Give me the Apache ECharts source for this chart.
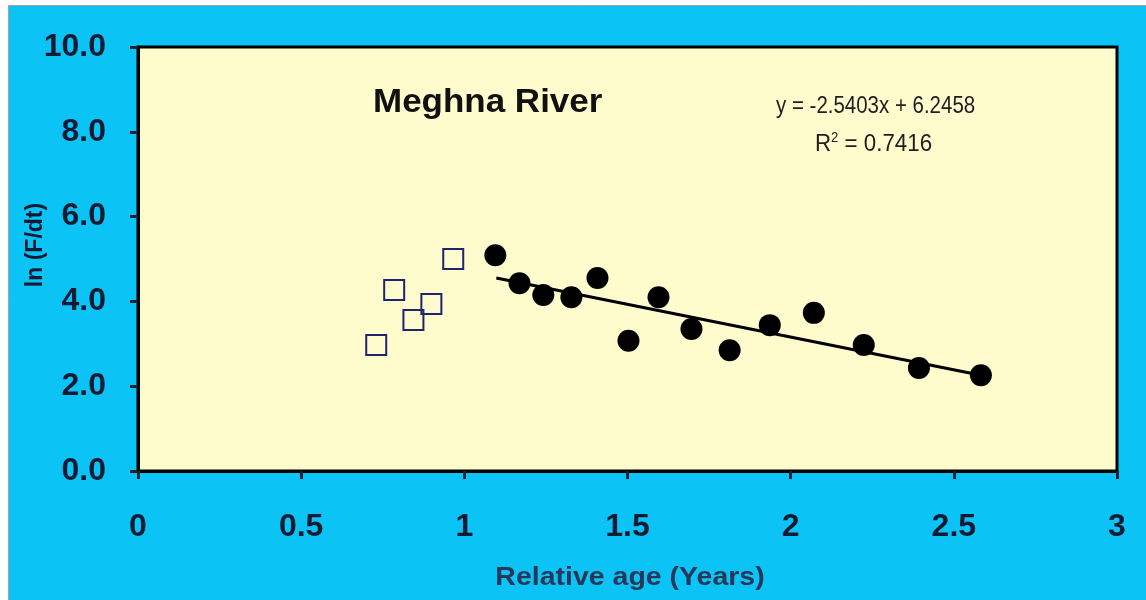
<!DOCTYPE html>
<html><head><meta charset="utf-8">
<script src="https://cdn.jsdelivr.net/npm/echarts@6/dist/echarts.min.js"></script>
<style>html,body{margin:0;padding:0;background:#fff}#c{width:1146px;height:600px}</style>
</head><body><div id="c"></div>
<script>
// Open squares (early points)
const openX = [0.730, 0.785, 0.844, 0.899, 0.966];
const openY = [2.97, 4.27, 3.56, 3.94, 5.00];
// Filled circles (regression points)
const fillX = [1.095, 1.169, 1.242, 1.328, 1.408, 1.503, 1.595, 1.696, 1.813, 1.936, 2.071, 2.224, 2.393, 2.583];
const fillY = [5.09, 4.43, 4.15, 4.10, 4.55, 3.07, 4.10, 3.35, 2.85, 3.44, 3.73, 2.97, 2.43, 2.26];
// Trendline as drawn (endpoints)
const trendX = [1.098, 2.583];
const trendY = [4.55, 2.26];
const titleText = 'Meghna River';
const eqText = 'y = -2.5403x + 6.2458';
const r2Text = 'R{s|2} = 0.7416';
const xName = 'Relative age (Years)';
const yName = 'ln (F/dt)';

const zip = (a, b) => a.map((v, i) => [v, b[i]]);
const chart = echarts.init(document.getElementById('c'));
const txt = '#101b33';
const F = 'Liberation Sans';
chart.setOption({
  backgroundColor: '#ffffff',
  animation: false,
  graphic: [
    { type: 'rect', z: -10, silent: true, shape: { x: 8.5, y: 5.5, width: 1146, height: 600 }, style: { fill: '#0cc3f6', stroke: '#a0a0a0', lineWidth: 1 } },
    { type: 'text', z: 10, x: 776, y: 107, scaleX: 0.89, style: { text: eqText, fontFamily: F, fontSize: 23, fill: '#1e1e1e', textVerticalAlign: 'middle' } },
    { type: 'text', z: 10, x: 815, y: 144, scaleX: 0.93, style: { text: r2Text, fontFamily: F, fontSize: 24, fill: '#1e1e1e', textVerticalAlign: 'middle',
        rich: { s: { fontSize: 14, fontFamily: F, fill: '#1e1e1e', padding: [0, 0, 12, 0] } } } },
    { type: 'text', z: 10, x: 373, y: 103, scaleX: 1.06, style: { text: titleText, fontFamily: F, fontWeight: 'bold', fontSize: 33, fill: '#111', textVerticalAlign: 'middle' } },
    { type: 'text', z: 10, x: 630, y: 578, scaleX: 1.14, style: { text: xName, fontFamily: F, fontWeight: 'bold', fontSize: 25, fill: '#26385a', textAlign: 'center', textVerticalAlign: 'middle' } },
    { type: 'text', z: 10, x: 36, y: 245, rotation: Math.PI / 2, style: { text: yName, fontFamily: F, fontWeight: 'bold', fontSize: 23, fill: txt, textAlign: 'center', textVerticalAlign: 'middle' } }
  ],
  grid: { left: 138, right: 29, top: 47, bottom: 129, show: true, backgroundColor: '#fefbcd', borderColor: '#000', borderWidth: 3, z: 0 },
  xAxis: {
    type: 'value', min: 0, max: 3, interval: 0.5,
    splitLine: { show: false },
    axisLine: { show: true, onZero: false, lineStyle: { color: '#000', width: 3 } },
    axisTick: { show: true, length: 8, lineStyle: { color: '#1a2030', width: 3 } },
    axisLabel: { margin: 40, fontFamily: F, fontWeight: 'bold', fontSize: 32, color: txt, formatter: v => String(v) }
  },
  yAxis: {
    type: 'value', min: 0, max: 10, interval: 2,
    splitLine: { show: false },
    axisLine: { show: true, onZero: false, lineStyle: { color: '#000', width: 3 } },
    axisTick: { show: true, length: 8, lineStyle: { color: '#1a2030', width: 3 } },
    axisLabel: { margin: 32, fontFamily: F, fontWeight: 'bold', fontSize: 32, color: txt, formatter: v => v.toFixed(1) }
  },
  series: [
    { type: 'line', data: zip(trendX, trendY), symbol: 'none', lineStyle: { color: '#000', width: 3 }, z: 2 },
    { type: 'scatter', data: zip(openX, openY), symbol: 'rect', symbolSize: 20,
      itemStyle: { color: 'rgba(0,0,0,0)', borderColor: '#1f2470', borderWidth: 2, opacity: 1 }, z: 3 },
    { type: 'scatter', data: zip(fillX, fillY), symbol: 'circle', symbolSize: 22,
      itemStyle: { color: '#000', opacity: 1 }, z: 3 }
  ]
});
</script></body></html>
